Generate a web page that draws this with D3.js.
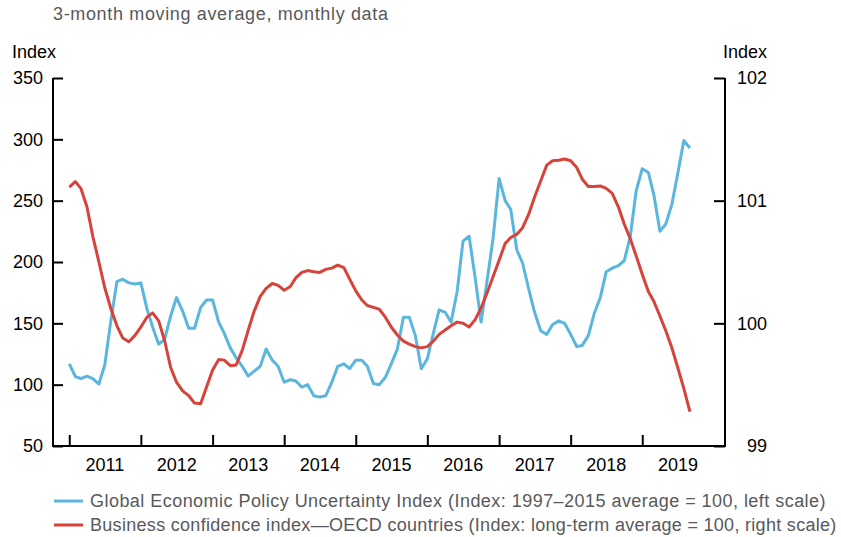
<!DOCTYPE html>
<html>
<head>
<meta charset="utf-8">
<script src="https://cdn.jsdelivr.net/npm/d3@7"></script>
<style>
  body { margin: 0; background: #fff; }
  svg { display: block; font-family: "Liberation Sans", Arial, Helvetica, sans-serif; }
</style>
</head>
<body>
<svg id="chart"></svg>
<script>
// Monthly data, Jan 2011 - Sep 2019
const startMonth = new Date(2011, 0, 1);

// Global Economic Policy Uncertainty Index (left scale)
const epuValues = [
    117, 106.5, 105, 107, 105, 100.5, 116, 152, 184, 186,
    183, 182, 183, 162, 147, 133, 137, 156, 171, 160,
    146, 146, 163, 169, 169, 151, 142, 130, 122, 115,
    107, 111, 115, 129, 120, 115, 102, 104, 103, 98,
    100, 91, 90, 91, 102, 115, 117, 113, 120, 120,
    115, 101, 100, 106, 117, 129, 155, 155, 140, 113,
    121, 142, 161, 159, 151, 176, 217, 221, 187, 151,
    185, 219, 268, 250, 243, 210, 199, 178, 159, 144,
    141, 149, 152, 150, 141, 131, 132, 140, 158, 171,
    192, 195, 197, 201, 221, 258, 276, 273, 255, 225,
    231, 247, 272, 299, 293
];

// Business confidence index - OECD countries (right scale)
const bciValues = [
    101.11, 101.155, 101.10, 100.95, 100.71, 100.50, 100.29, 100.12, 99.98, 99.88,
    99.85, 99.90, 99.97, 100.05, 100.085, 100.02, 99.86, 99.64, 99.52, 99.45,
    99.41, 99.35, 99.345, 99.48, 99.62, 99.705, 99.70, 99.655, 99.66, 99.78,
    99.94, 100.10, 100.22, 100.285, 100.325, 100.31, 100.27, 100.30, 100.37, 100.415,
    100.43, 100.42, 100.415, 100.44, 100.45, 100.475, 100.455, 100.36, 100.265, 100.19,
    100.145, 100.13, 100.115, 100.05, 99.97, 99.905, 99.855, 99.83, 99.81, 99.80,
    99.81, 99.855, 99.91, 99.945, 99.98, 100.01, 100.0, 99.97, 100.03, 100.125,
    100.25, 100.38, 100.515, 100.65, 100.70, 100.725, 100.78, 100.89, 101.03, 101.16,
    101.29, 101.325, 101.33, 101.34, 101.325, 101.27, 101.175, 101.115, 101.115, 101.12,
    101.10, 101.06, 100.95, 100.81, 100.69, 100.55, 100.40, 100.26, 100.18, 100.06,
    99.94, 99.80, 99.64, 99.47, 99.28
];

const years = [2011, 2012, 2013, 2014, 2015, 2016, 2017, 2018, 2019];
const leftTicks = [50, 100, 150, 200, 250, 300, 350];
const rightTicks = [99, 100, 101, 102];

const legendLabels = [
    "Global Economic Policy Uncertainty Index (Index: 1997\u20132015 average = 100, left scale)",
    "Business confidence index\u2014OECD countries (Index: long-term average = 100, right scale)"
];

const blue = "#5bb6de";
const red = "#d5433b";
const grey = "#58595b";

const width = 841;
const height = 537;
const plotLeft = 53, plotRight = 725, plotTop = 78, plotBottom = 446;
const fontSize = 18;

const months = d3.timeMonth.range(startMonth, d3.timeMonth.offset(startMonth, epuValues.length));

const x = d3.scaleTime()
    .domain([new Date(2010, 9, 10), new Date(2020, 1, 27)])
    .range([plotLeft, plotRight]);

const yLeft = d3.scaleLinear().domain([50, 350]).range([plotBottom, plotTop]);
const yRight = d3.scaleLinear().domain([99, 102]).range([plotBottom, plotTop]);

const svg = d3.select("#chart")
    .attr("width", width)
    .attr("height", height)
    .attr("viewBox", [0, 0, width, height]);

// Subtitle
svg.append("text")
    .attr("x", 53)
    .attr("y", 20)
    .attr("fill", grey)
    .attr("font-size", fontSize)
    .attr("letter-spacing", 0.65)
    .text("3-month moving average, monthly data");

// Axis titles
svg.append("text")
    .attr("x", 12).attr("y", 58)
    .attr("font-size", fontSize)
    .text("Index");
svg.append("text")
    .attr("x", 767).attr("y", 58)
    .attr("text-anchor", "end")
    .attr("font-size", fontSize)
    .text("Index");

// Left axis, ticks pointing inward
const gLeft = svg.append("g")
    .attr("transform", `translate(${plotLeft},0)`)
    .call(d3.axisRight(yLeft).tickValues(leftTicks).tickSize(10).tickFormat(d3.format("d")));
gLeft.select(".domain").remove();
gLeft.selectAll("text")
    .attr("x", -10)
    .attr("text-anchor", "end")
    .attr("font-size", fontSize)
    .attr("fill", "#000");

// Right axis, ticks pointing inward
const gRight = svg.append("g")
    .attr("transform", `translate(${plotRight},0)`)
    .call(d3.axisLeft(yRight).tickValues(rightTicks).tickSize(11).tickFormat(d3.format("d")));
gRight.select(".domain").remove();
gRight.selectAll("text")
    .attr("x", 42)
    .attr("text-anchor", "end")
    .attr("font-size", fontSize)
    .attr("fill", "#000");

// Bottom axis: year-start ticks, labels centred in each year
const gBottom = svg.append("g")
    .attr("transform", `translate(0,${plotBottom})`)
    .call(d3.axisTop(x).tickValues(years.map(y => new Date(y, 0, 1))).tickSize(11).tickFormat(""));
gBottom.select(".domain").remove();

svg.append("g")
    .selectAll("text")
    .data(years)
    .join("text")
        .attr("x", d => x(new Date(d, 6, 2)))
        .attr("y", plotBottom + 25)
        .attr("text-anchor", "middle")
        .attr("font-size", fontSize)
        .text(d => d);

svg.selectAll(".tick line")
    .attr("stroke", "#000")
    .attr("stroke-width", 2);

// Frame: left, right and bottom lines
svg.append("path")
    .attr("d", `M${plotLeft},${plotTop}V${plotBottom}H${plotRight}V${plotTop}`)
    .attr("fill", "none")
    .attr("stroke", "#000")
    .attr("stroke-width", 2);

// Lines
const epuLine = d3.line()
    .x((d, i) => x(months[i]))
    .y(d => yLeft(d));
const bciLine = d3.line()
    .x((d, i) => x(months[i]))
    .y(d => yRight(d));

svg.append("path")
    .datum(epuValues)
    .attr("fill", "none")
    .attr("stroke", blue)
    .attr("stroke-width", 3)
    .attr("stroke-linejoin", "round")
    .attr("d", epuLine);

svg.append("path")
    .datum(bciValues)
    .attr("fill", "none")
    .attr("stroke", red)
    .attr("stroke-width", 3)
    .attr("stroke-linejoin", "round")
    .attr("d", bciLine);

// Legend
const legend = svg.append("g")
    .selectAll("g")
    .data(legendLabels)
    .join("g")
        .attr("transform", (d, i) => `translate(54,${501 + i * 24})`);

legend.append("line")
    .attr("x1", 0).attr("x2", 29)
    .attr("stroke", (d, i) => i === 0 ? blue : red)
    .attr("stroke-width", 3);

legend.append("text")
    .attr("x", 36)
    .attr("y", 6)
    .attr("fill", grey)
    .attr("font-size", fontSize)
    .attr("letter-spacing", (d, i) => i === 0 ? 0.46 : 0.3)
    .text(d => d);
</script>
</body>
</html>
